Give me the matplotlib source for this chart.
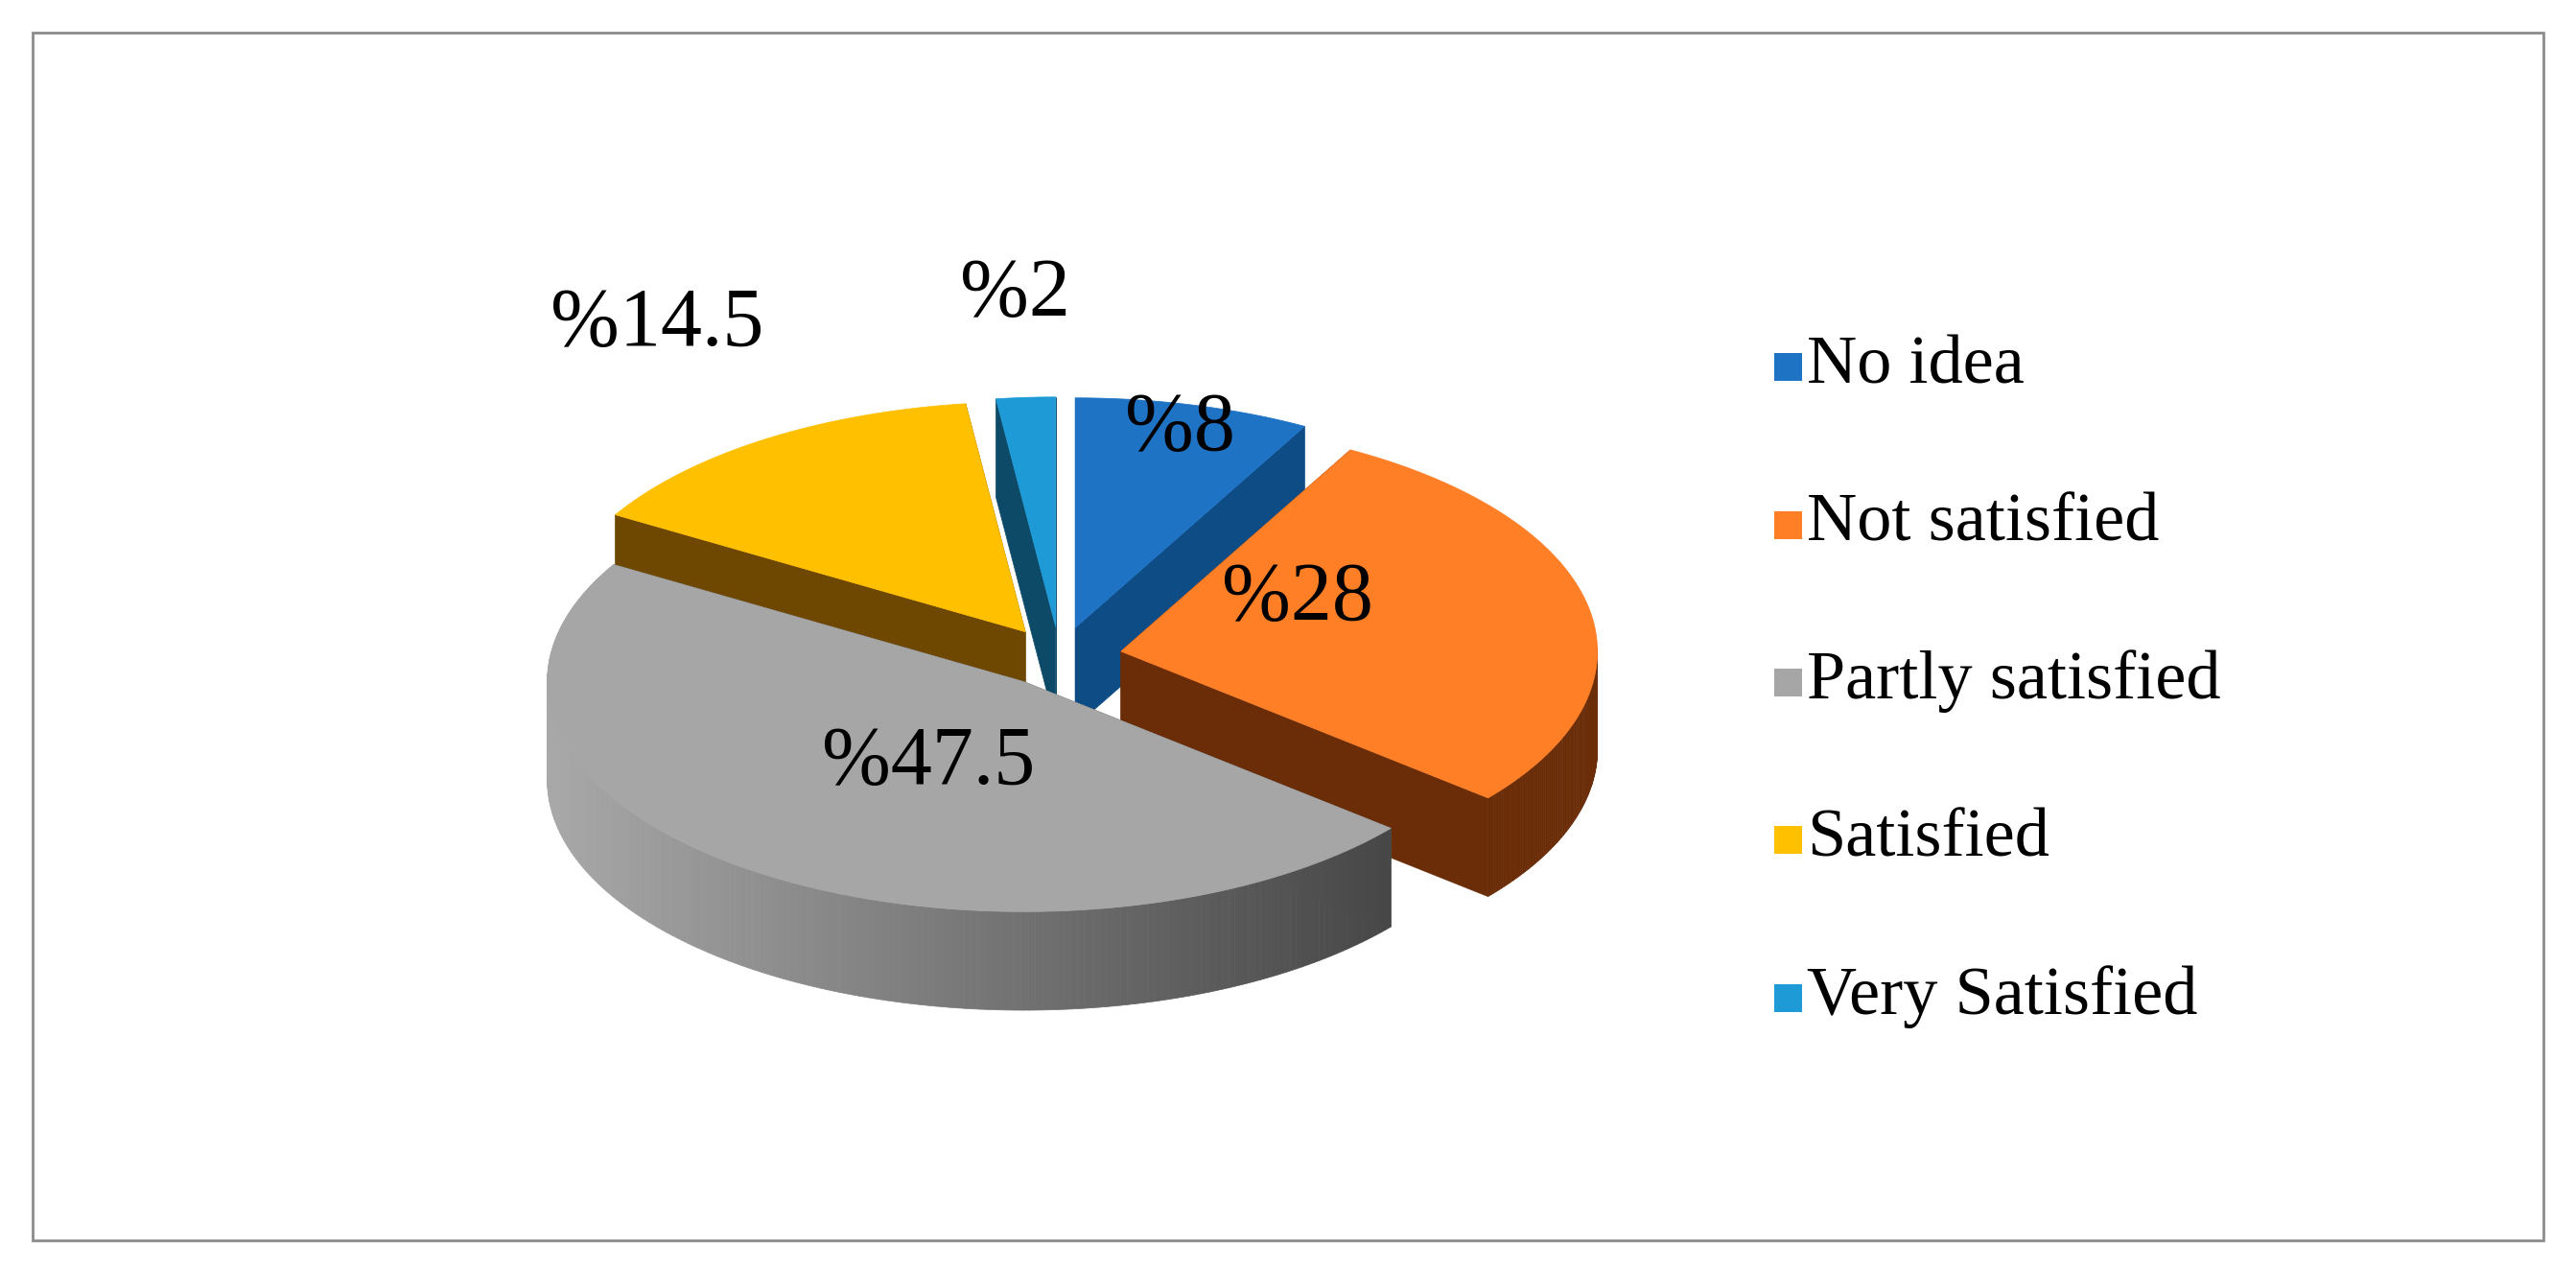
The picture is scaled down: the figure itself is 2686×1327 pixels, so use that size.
import numpy as np
import matplotlib
matplotlib.use("Agg")
import matplotlib.pyplot as plt
from matplotlib.patches import Polygon, Rectangle
from matplotlib.colors import to_rgb

categories = ["No idea", "Not satisfied", "Partly satisfied", "Satisfied", "Very Satisfied"]
values = [8, 28, 47.5, 14.5, 2]
labels = ["%8", "%28", "%47.5", "%14.5", "%2"]
top_colors = ["#1F73C5", "#FF7F27", "#A6A6A6", "#FFC000", "#1E9BD7"]
side_colors = ["#0E4C86", "#6A2D08", "#5a5a5a", "#6E4800", "#0D4A68"]
label_pos = [(718, 262), (790, 365), (565, 465), (400, 198), (618, 180)]

W, H = 1568, 775
fig = plt.figure(figsize=(26.86, 13.27), dpi=100)
ax = fig.add_axes([0, 0, 1, 1])
ax.set_xlim(0, W); ax.set_ylim(0, H); ax.axis("off")
ax.add_patch(Rectangle((20, 20), 1528, 735, fill=False, ec="#8c8c8c", lw=2))

cx, cy, rx, ry, depth, expl = 645, 375, 290, 140, 60, 38
tot = sum(values)
start = 90.0
wedges = []
for i, v in enumerate(values):
    a1 = start; a0 = start - 360 * v / tot; start = a0
    mid = np.radians((a0 + a1) / 2)
    ox, oy = cx + expl * np.cos(mid), cy + expl * ry / rx * np.sin(mid)
    wedges.append((i, a0, a1, ox, oy, mid))

def pt(ox, oy, ang, dz=0):
    return (ox + rx * np.cos(ang), oy + ry * np.sin(ang) - dz)

for i, a0, a1, ox, oy, mid in sorted(wedges, key=lambda w: -np.sin(w[5])):
    sc = side_colors[i]
    for a in (a0, a1):
        r = np.radians(a)
        p = pt(ox, oy, r)
        ax.add_patch(Polygon([(ox, oy), p, (p[0], p[1] - depth), (ox, oy - depth)],
                             closed=True, fc=sc, ec=sc, lw=0.5))
    th = np.radians(np.linspace(a0, a1, 200))
    for k in range(len(th) - 1):
        t0, t1 = th[k], th[k + 1]
        if np.sin((t0 + t1) / 2) > 0.02 and i != 2:
            continue
        if i == 2:
            f = (1 - np.cos((t0 + t1) / 2)) / 2
            c = np.array(to_rgb("#a8a8a8")) * f + np.array(to_rgb("#3a3a3a")) * (1 - f)
        else:
            c = sc
        p0, p1 = pt(ox, oy, t0), pt(ox, oy, t1)
        ax.add_patch(Polygon([p0, p1, (p1[0], p1[1] - depth), (p0[0], p0[1] - depth)],
                             closed=True, fc=c, ec=c, lw=0.5))

for i, a0, a1, ox, oy, mid in wedges:
    th = np.radians(np.linspace(a0, a1, 200))
    pts = [(ox, oy)] + [pt(ox, oy, t) for t in th]
    ax.add_patch(Polygon(pts, closed=True, fc=top_colors[i], ec=top_colors[i], lw=0.5))

for lab, (x, y) in zip(labels, label_pos):
    ax.text(x, H - y, lab, fontsize=62, family="Liberation Serif", ha="center", va="center")

for k, (cat, col) in enumerate(zip(categories, top_colors)):
    y = H - (223 + 96 * k)
    ax.add_patch(Rectangle((1080, y - 9), 17, 17, fc=col, ec="none"))
    ax.text(1100, y, cat, fontsize=52, family="Liberation Serif", va="center", ha="left")

fig.savefig("out.png", dpi=100)
